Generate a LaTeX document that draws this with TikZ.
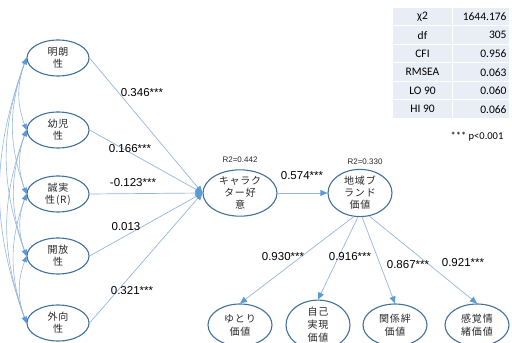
\documentclass[tikz,border=0pt]{standalone}
\usepackage{fontspec}
\setmainfont{Liberation Sans}
\newfontfamily\jpfont{Noto Sans CJK JP}[LetterSpace=8]
\newfontfamily\tabfont{Carlito}
\usetikzlibrary{arrows.meta,shapes.geometric}
\definecolor{ellc}{RGB}{65,113,156}
\definecolor{linec}{RGB}{149,182,222}
\definecolor{arrc}{RGB}{91,155,213}
\definecolor{txt}{RGB}{40,40,40}
\definecolor{tabbg}{RGB}{233,237,245}
\begin{document}
\begin{tikzpicture}[x=1pt,y=1pt,
  lat/.style={ellipse,draw=ellc,line width=1.1pt,fill=white,minimum width=62pt,minimum height=36pt,inner sep=0pt,font=\jpfont\fontsize{10}{12}\selectfont,align=center,text=txt},
  botlat/.style={lat,minimum width=64pt,minimum height=42pt,font=\jpfont\fontsize{10}{13}\selectfont},
  pathline/.style={draw=linec,line width=0.7pt,-{Triangle[width=6pt,length=7pt,color=arrc]}},
  cov/.style={draw=linec,line width=0.6pt,{Triangle[width=5pt,length=6pt,color=arrc]}-{Triangle[width=5pt,length=6pt,color=arrc]}},
  coef/.style={font=\fontsize{11.5}{13}\selectfont,text=black,inner sep=1pt},
  rsq/.style={font=\fontsize{8}{10}\selectfont,text=txt,inner sep=1pt},
  lcell/.style={draw=white,line width=1pt,fill=tabbg,minimum width=60pt,minimum height=18.5pt,inner sep=0pt,anchor=north west,font=\tabfont\fontsize{11.5}{13}\selectfont},
  vcell/.style={draw=white,line width=1pt,fill=tabbg,text width=51pt,align=right,minimum height=18.5pt,inner sep=3pt,anchor=north west,font=\tabfont\fontsize{11.5}{13}\selectfont}
]
\useasboundingbox (0,0) rectangle (512,343);

% left latent variables
\node[lat] (m1) at (58,285) {明朗\\性};
\node[lat] (m2) at (58,213) {幼児\\性};
\node[lat] (m3) at (58,149) {誠実\\性(R)};
\node[lat] (m4) at (58,87) {開放\\性};
\node[lat] (m5) at (58,20) {外向\\性};

% centre
\node[lat,minimum width=74pt,minimum height=44pt] (ch) at (240,150) {キャラク\\ター好\\意};
\node[lat,minimum width=64pt,minimum height=44pt] (rg) at (360,150) {地域ブ\\ランド\\価値};

% bottom
\node[botlat] (b1) at (240,18) {ゆとり\\価値};
\node[botlat] (b2) at (318,18) {自己\\実現\\価値};
\node[botlat] (b3) at (395,18) {関係絆\\価値};
\node[botlat] (b4) at (477,18) {感覚情\\緒価値};

% covariances
\foreach \i/\j in {m1/m2,m2/m3,m3/m4,m4/m5,m1/m3,m2/m4,m3/m5,m1/m4,m2/m5,m1/m5}
  \draw[cov] (\i.west) to[out=250,in=110] (\j.west);

% paths
\foreach \i in {m1,m2,m3,m4,m5}
  \draw[pathline] (\i.east) -- (ch.west);
\draw[pathline] (ch.east) -- (rg.west);
\draw[pathline] (rg.255) -- (b1.north);
\draw[pathline] (rg.265) -- (b2.north);
\draw[pathline] (rg.275) -- (b3.north);
\draw[pathline] (rg.292) -- (b4.north);

% coefficients
\node[coef] (c1) at (142,250) {0.346***};
\node[coef] (c2) at (130,194) {0.166***};
\node[coef] (c3) at (133,160) {-0.123***};
\node[coef] (c4) at (126,116) {0.013};
\node[coef] (c5) at (132,52) {0.321***};
\node[coef] (c6) at (302,167) {0.574***};
\node[coef] (c7) at (283,86) {0.930***};
\node[coef] (c8) at (350,86) {0.916***};
\node[coef] (c9) at (408,78) {0.867***};
\node[coef] (c10) at (463,80) {0.921***};

\node[rsq] (r1) at (240,183) {R2=0.442};
\node[rsq] (r2) at (365,181) {R2=0.330};

% fit table
\foreach \k/\l/\v in {0/χ2/1644.176,1/df/305,2/CFI/0.956,3/RMSEA/0.063,4/LO 90/0.060,5/HI 90/0.066}{
  \node[lcell] (tl\k) at (392,336-18.5*\k) {\l};
  \node[vcell] (tv\k) at (452,336-18.5*\k) {\v};
}
\node[font=\tabfont\fontsize{10.5}{12}\selectfont] (pv) at (477,206) {*** p<0.001};
\end{tikzpicture}
\end{document}
